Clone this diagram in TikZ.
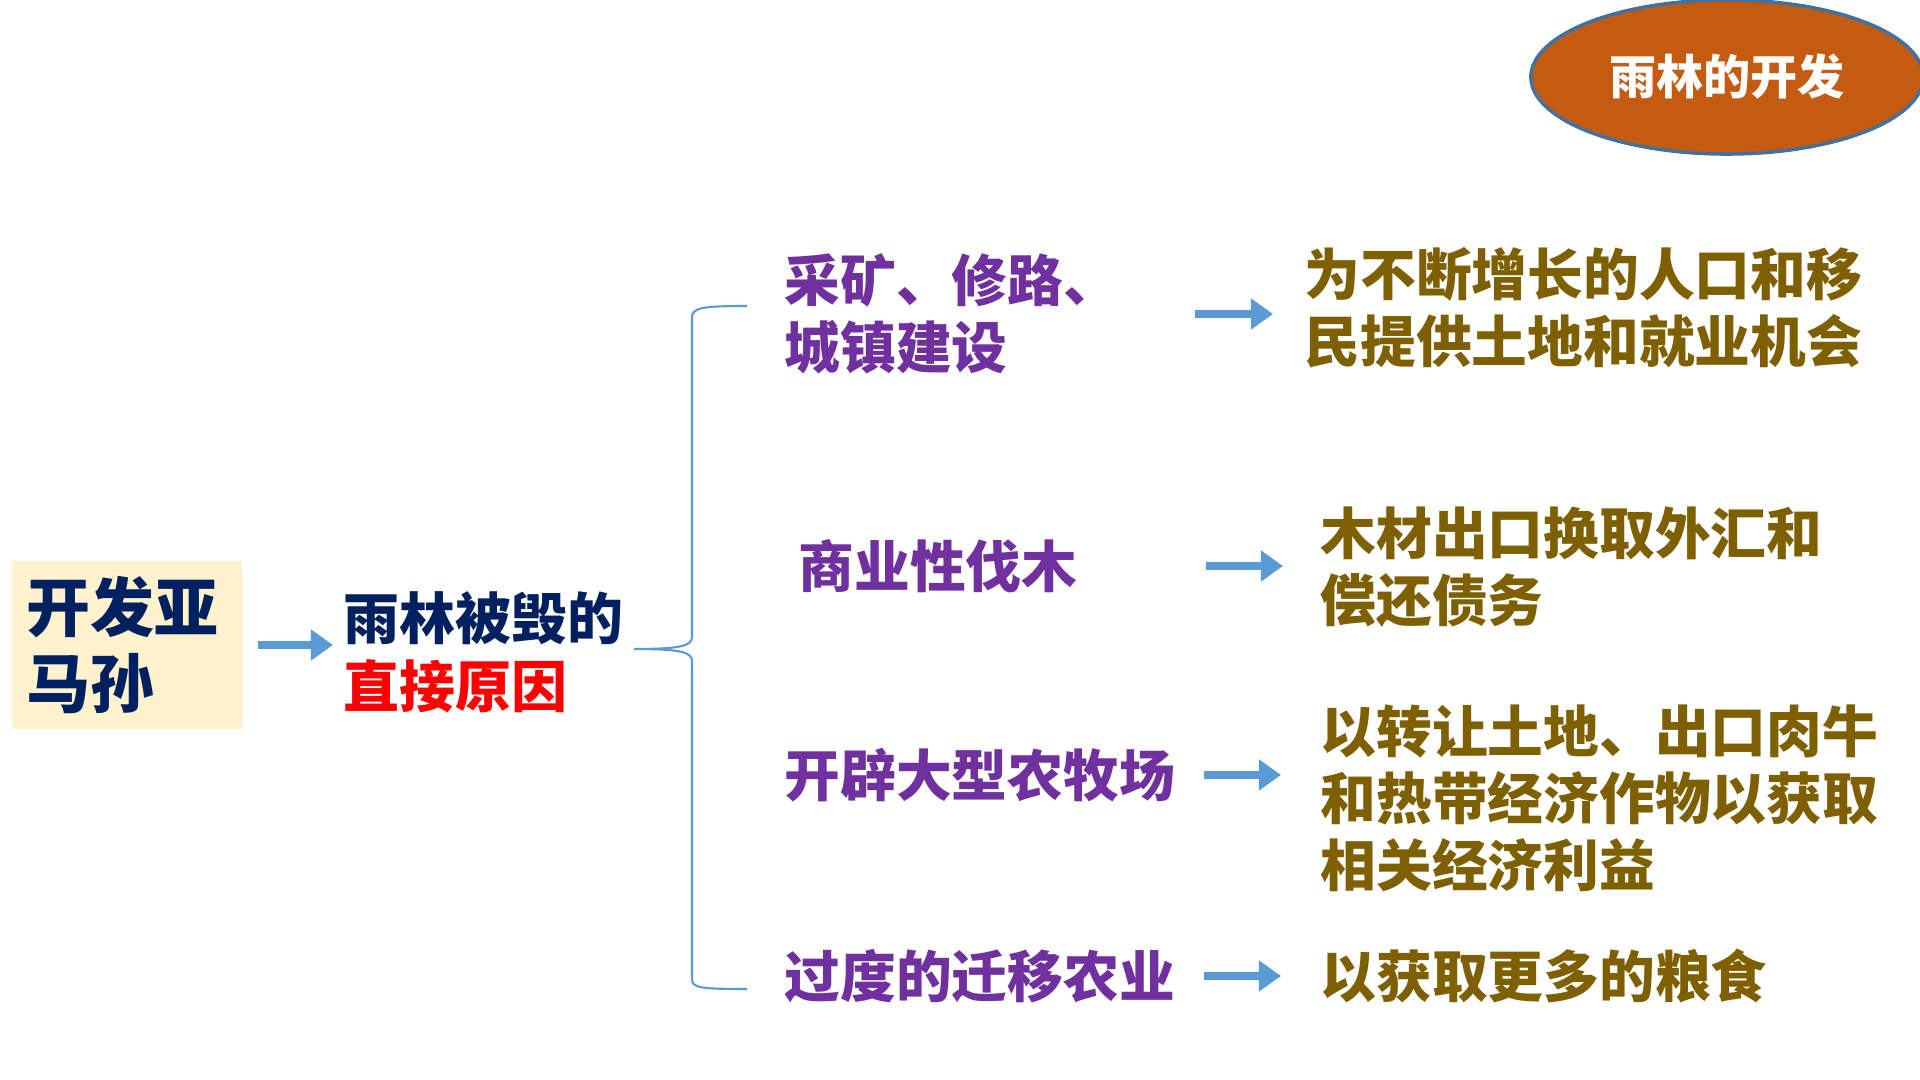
\documentclass[tikz,border=0pt]{standalone}
\usepackage{fontspec}
\setmainfont{Noto Sans CJK SC}
\usetikzlibrary{arrows.meta,calc,shapes.geometric}
\definecolor{purp}{HTML}{7030A0}
\definecolor{gold}{HTML}{7F6000}
\definecolor{navy}{HTML}{002060}
\definecolor{arrblue}{HTML}{5B9BD5}
\definecolor{boxfill}{HTML}{FFF2CC}
\definecolor{ellfill}{HTML}{C55A11}
\definecolor{elldraw}{HTML}{41719C}
\begin{document}
\begin{tikzpicture}[x=0.01cm,y=-0.01cm,
  txt/.style={inner sep=0pt, anchor=west, align=left, font=\bfseries\fontsize{15.85pt}{19.1pt}\selectfont},
  causetxt/.style={txt, text=purp},
  effecttxt/.style={txt, text=gold},
  arr/.style={draw=arrblue, line width=2.4pt, -{Triangle[length=6.3pt,width=8.5pt]}},
  bracestyle/.style={draw=arrblue, line width=0.6pt}
]
\useasboundingbox[fill=white] (0,0) rectangle (1920,1080);

% title ellipse
\node[ellipse, fill=ellfill, draw=elldraw, line width=1pt, minimum width=3.92cm, minimum height=1.54cm,
      text=white, font=\bfseries\fontsize{13.4pt}{16pt}\selectfont] (title) at (1727,77) {雨林的开发};

% left box
\node[fill=boxfill, minimum width=2.3cm, minimum height=1.68cm, inner sep=0.15cm, text width=2.0cm,
      align=left, text=navy, font=\bfseries\fontsize{18.2pt}{21.6pt}\selectfont] (amz) at (127,645) {开发亚\\马孙};

% direct cause
\node[txt, text=navy, font=\bfseries\fontsize{15.9pt}{19.3pt}\selectfont] (cause) at (343,652)
  {雨林被毁的\\{\color{red}直接原因}};

\draw[arr] ([xshift=0.15cm]amz.east) -- ($(amz.east -| cause.west)+(-10,0)$);

% brace
\draw[bracestyle] (747,306) .. controls (700,306) and (692,308) .. (692,318) -- (692,637)
  .. controls (692,646) and (680,649) .. (634,649)
  .. controls (680,649) and (692,652) .. (692,661) -- (692,979)
  .. controls (692,988) and (700,989) .. (747,989);

% causes
\node[causetxt] (s1) at (784,314) {采矿、修路、\\城镇建设};
\node[causetxt] (s2) at (798,566) {商业性伐木};
\node[causetxt] (s3) at (784,775) {开辟大型农牧场};
\node[causetxt] (s4) at (784,976) {过度的迁移农业};

% effects
\node[effecttxt] (r1) at (1304,308) {为不断增长的人口和移\\民提供土地和就业机会};
\node[effecttxt] (r2) at (1320,567) {木材出口换取外汇和\\偿还债务};
\node[effecttxt] (r3) at (1320,798) {以转让土地、出口肉牛\\和热带经济作物以获取\\相关经济利益};
\node[effecttxt] (r4) at (1320,976) {以获取更多的粮食};

% arrows
\draw[arr] ($(s1.east -| r1.west)+(-109,0)$) -- ($(s1.east -| r1.west)+(-31,0)$);
\draw[arr] ($(s2.east -| r2.west)+(-114,0)$) -- ($(s2.east -| r2.west)+(-37,0)$);
\draw[arr] ($(s3.east -| r3.west)+(-116,0)$) -- ($(s3.east -| r3.west)+(-39,0)$);
\draw[arr] ($(s4.east -| r4.west)+(-116,0)$) -- ($(s4.east -| r4.west)+(-39,0)$);
\end{tikzpicture}
\end{document}
